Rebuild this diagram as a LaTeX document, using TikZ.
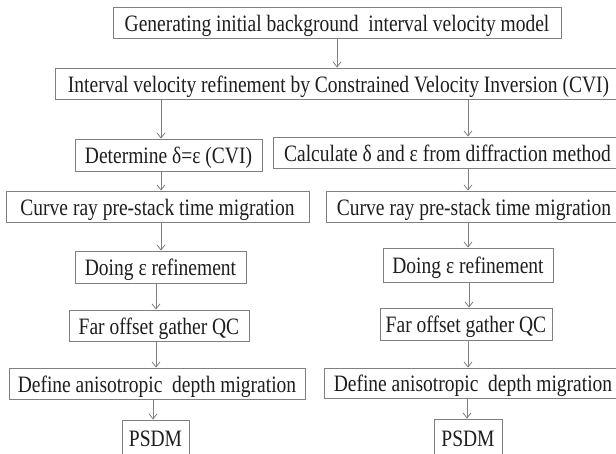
\documentclass[tikz,border=0pt]{standalone}
\usepackage{fontspec}
\setmainfont{Liberation Serif}
\usetikzlibrary{arrows.meta}
\definecolor{edge}{HTML}{808080}
\definecolor{ink}{HTML}{1E1E1E}
\tikzset{
  box/.style={draw=edge, line width=0.9pt, inner sep=0pt, text=ink,
    font=\fontsize{23.5}{26}\selectfont, text height=20pt, text depth=3pt},
  arr/.style={draw=edge, line width=0.8pt, -{Straight Barb[length=5pt,width=8pt,line width=0.8pt]}}
}
\newcommand{\bx}[6]{% name, x1, y1, x2, y2, text
  \node[box, minimum width={(#4)-(#2)}, minimum height={(#5)-(#3)}] (#1) at ({((#2)+(#4))/2},{((#3)+(#5))/2}) {\scalebox{0.83}[1]{#6}};}
\begin{document}
\begin{tikzpicture}[x=1pt,y=-1pt]
\clip (0,0) rectangle (616,453);
\fill[white] (0,0) rectangle (616,453);
\bx{gen}{113}{7}{561}{38}{Generating initial background\ \ interval velocity model}
\bx{cvi}{55}{68}{622}{99}{Interval velocity refinement by Constrained Velocity Inversion (CVI)}
\bx{det}{75}{139}{262}{171}{Determine δ=ε (CVI)}
\bx{calc}{273}{137}{622}{168}{Calculate δ and ε from diffraction method}
\bx{curL}{6}{191}{309}{222}{Curve ray pre-stack time migration}
\bx{curR}{326}{191}{622}{222}{Curve ray pre-stack time migration}
\bx{doL}{75}{251}{246}{283}{Doing ε refinement}
\bx{doR}{383}{248}{553}{282}{Doing ε refinement}
\bx{farL}{69}{310}{249}{341}{Far offset gather QC}
\bx{farR}{380}{308}{552}{340}{Far offset gather QC}
\bx{defL}{9}{368}{305}{399}{Define anisotropic\ \ depth migration}
\bx{defR}{324}{368}{622}{398}{Define anisotropic\ \ depth migration}
\bx{psL}{122}{420}{189}{456}{PSDM}
\bx{psR}{434}{419}{502}{456}{PSDM}
\draw[arr] (gen.south -| 337,0) -- (cvi.north -| 337,0);
\draw[arr] (cvi.south -| 161,0) -- (det.north -| 161,0);
\draw[arr] (cvi.south -| 468,0) -- (calc.north -| 468,0);
\draw[arr] (det.south -| 161,0) -- (curL.north -| 161,0);
\draw[arr] (curL.south -| 161,0) -- (doL.north -| 161,0);
\draw[arr] (doL.south -| 156,0) -- (farL.north -| 156,0);
\draw[arr] (farL.south -| 156,0) -- (defL.north -| 156,0);
\draw[arr] (defL.south -| 153,0) -- (psL.north -| 153,0);
\draw[arr] (calc.south -| 468,0) -- (curR.north -| 468,0);
\draw[arr] (curR.south -| 468,0) -- (doR.north -| 468,0);
\draw[arr] (doR.south -| 469,0) -- (farR.north -| 469,0);
\draw[arr] (farR.south -| 468,0) -- (defR.north -| 468,0);
\draw[arr] (defR.south -| 467,0) -- (psR.north -| 467,0);
\end{tikzpicture}
\end{document}
